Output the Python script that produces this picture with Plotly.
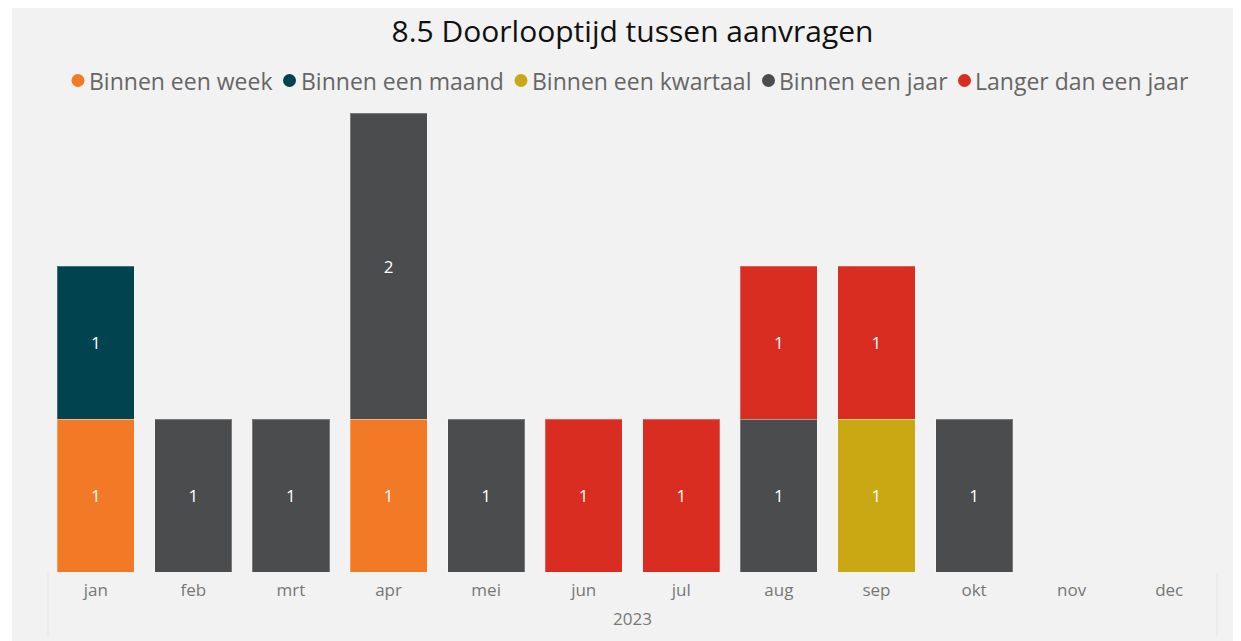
import plotly.graph_objects as go

months = ["jan", "feb", "mrt", "apr", "mei", "jun", "jul", "aug", "sep", "okt", "nov", "dec"]
series_names = ["Binnen een week", "Binnen een maand", "Binnen een kwartaal", "Binnen een jaar", "Langer dan een jaar"]
week     = [1, None, None, 1, None, None, None, None, None, None, None, None]
maand    = [1, None, None, None, None, None, None, None, None, None, None, None]
kwartaal = [None, None, None, None, None, None, None, None, 1, None, None, None]
jaar     = [None, 1, 1, 2, 1, None, None, 1, None, 1, None, None]
langer   = [None, None, None, None, None, 1, 1, 1, 1, None, None, None]
colors = ["#F27A27", "#01434F", "#C9A814", "#4B4C4E", "#D82D20"]
year_label = "2023"
title = "8.5 Doorlooptijd tussen aanvragen"

FONT = "Segoe UI, Open Sans, sans-serif"
OFF = 8  # page body margin
PW, PH = 1241, 641          # page size
W, H = PW - OFF, PH - OFF   # figure size
# plot area in page pixels
PX0, PX1, PY0, PY1 = 47, 1218, 113, 572
L, R, T, B = PX0 - OFF, W - (PX1 - OFF), PY0 - OFF, H - (PY1 - OFF)
pw, ph = PX1 - PX0, PY1 - PY0

def px_x(x):
    return (x - PX0) / pw

def px_y(y):
    return (PY1 - y) / ph

fig = go.Figure()
for name, vals, col in zip(series_names, [week, maand, kwartaal, jaar, langer], colors):
    fig.add_trace(go.Bar(
        x=months, y=vals, name=name,
        marker=dict(color=col, line=dict(color="rgba(255,255,255,0.25)", width=1)),
        texttemplate="%{y}", textposition="inside", insidetextanchor="middle",
        textfont=dict(color="white", size=17, family=FONT), showlegend=False,
    ))

shapes = [
    dict(type="rect", xref="paper", yref="paper", x0=px_x(12), x1=px_x(1238), y0=px_y(641), y1=px_y(8),
         fillcolor="#F2F2F2", line=dict(width=0), layer="below"),
    dict(type="line", xref="paper", yref="paper", x0=px_x(48), x1=px_x(48), y0=px_y(636), y1=px_y(573),
         line=dict(color="#E4E4E4", width=1), layer="below"),
    dict(type="line", xref="paper", yref="paper", x0=px_x(1217), x1=px_x(1217), y0=px_y(636), y1=px_y(573),
         line=dict(color="#E4E4E4", width=1), layer="below"),
]

annotations = [dict(text=year_label, xref="paper", yref="paper", x=px_x(632), y=px_y(618),
                    xanchor="center", yanchor="middle",
                    showarrow=False, font=dict(size=17, color="#777777", family=FONT))]

# custom legend (circle markers, tight spacing)
legend_dot_x = [78, 289.5, 521, 768.5, 964.5]
legend_text_x = [87, 299, 530, 777, 973]
legend_y = 80.5
for name, col, dx, tx in zip(series_names, colors, legend_dot_x, legend_text_x):
    shapes.append(dict(type="circle", xref="paper", yref="paper", xsizemode="pixel", ysizemode="pixel",
                       xanchor=px_x(dx), yanchor=px_y(legend_y), x0=-6.5, x1=6.5, y0=-6.5, y1=6.5,
                       fillcolor=col, line=dict(width=0)))
    annotations.append(dict(text=name, xref="paper", yref="paper", x=px_x(tx), y=px_y(legend_y),
                            xanchor="left", yanchor="middle", showarrow=False,
                            font=dict(size=23, color="#666666", family=FONT)))

fig.update_layout(
    width=W, height=H, barmode="stack", bargap=0.21,
    margin=dict(l=L, r=R, t=T, b=B),
    paper_bgcolor="white", plot_bgcolor="rgba(0,0,0,0)",
    font=dict(family=FONT),
    title=dict(text=title, x=px_x(632.5), xref="paper", xanchor="center", y=1 - (31 - OFF) / H,
               yref="container", yanchor="middle", font=dict(size=30, color="#111111", family=FONT)),
    showlegend=False,
    xaxis=dict(categoryorder="array", categoryarray=months, range=[-0.5, 11.5], showgrid=False,
               showline=False, zeroline=False, ticks="", ticklabelstandoff=6,
               tickfont=dict(size=17, color="#777777", family=FONT), fixedrange=True),
    yaxis=dict(range=[0, 3], visible=False, showgrid=False, zeroline=False),
    shapes=shapes,
    annotations=annotations,
)
fig.write_html("out.html")
